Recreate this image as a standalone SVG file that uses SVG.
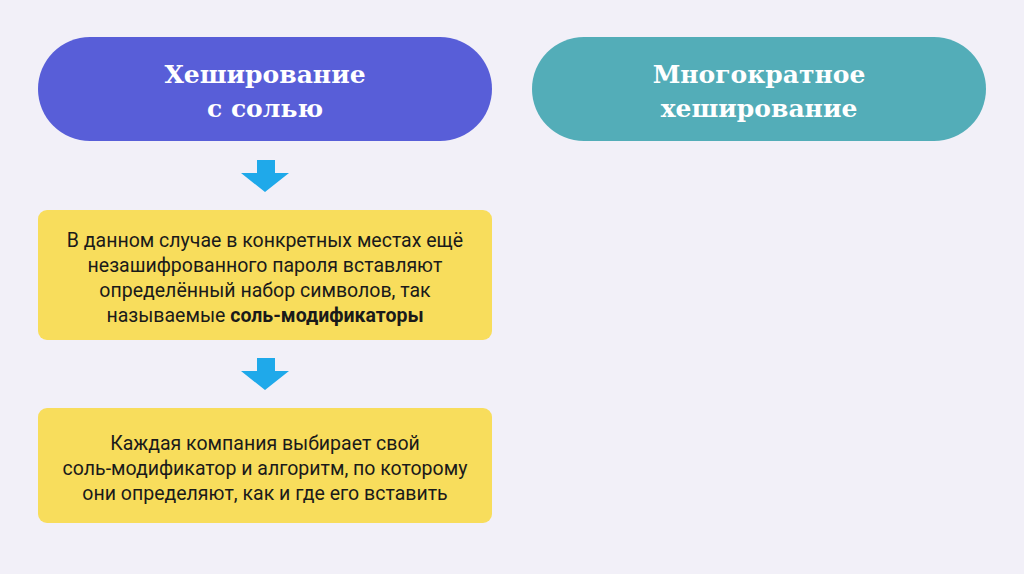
<svg xmlns="http://www.w3.org/2000/svg" width="1024" height="574" viewBox="0 0 1024 574">
<style>
.title{font-family:"DejaVu Serif","Liberation Serif",serif;font-weight:bold;font-size:25px;fill:#ffffff;text-anchor:middle}
.body{font-family:Roboto,"Liberation Sans",sans-serif;font-size:19.5px;fill:#1a1a1a;text-anchor:middle}
.box{fill:#f8dd5c}
.arrow{fill:#1fa9ea}
</style>
<rect x="0" y="0" width="1024" height="574" fill="#f2f0f8"/>
<g id="node-salt">
<rect x="38" y="37" width="454" height="104" rx="52" fill="#585ed8"/>
<text class="title" x="265" y="83">Хеширование</text>
<text class="title" x="265" y="117">с солью</text>
</g>
<g id="node-multi">
<rect x="532" y="37" width="454" height="104" rx="52" fill="#53adb8"/>
<text class="title" x="759" y="83">Многократное</text>
<text class="title" x="759" y="117">хеширование</text>
</g>
<g id="node-desc1">
<rect class="box" x="38" y="210" width="454" height="130" rx="9"/>
<text class="body" x="265" y="247">В данном случае в конкретных местах ещё</text>
<text class="body" x="265" y="272">незашифрованного пароля вставляют</text>
<text class="body" x="265" y="297">определённый набор символов, так</text>
<text class="body" x="265" y="322">называемые <tspan font-weight="bold">соль-модификаторы</tspan></text>
</g>
<g id="node-desc2">
<rect class="box" x="38" y="408" width="454" height="115" rx="9"/>
<text class="body" x="265" y="450">Каждая компания выбирает свой</text>
<text class="body" x="265" y="475">соль-модификатор и алгоритм, по которому</text>
<text class="body" x="265" y="500">они определяют, как и где его вставить</text>
</g>
<g id="connectors">
<polygon class="arrow" points="257,160 275,160 275,173 289,173 265,192 241,173 257,173"/>
<polygon class="arrow" points="257,358 275,358 275,371 289,371 265,390 241,371 257,371"/>
</g>
</svg>
